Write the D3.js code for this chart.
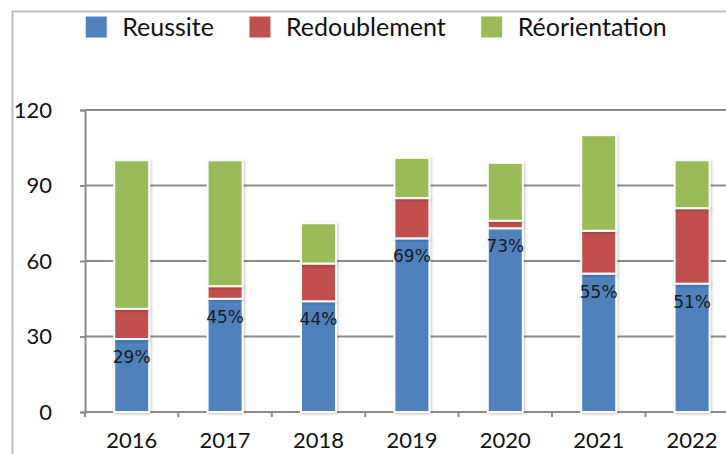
<!DOCTYPE html>
<html>
<head>
<meta charset="utf-8">
<script src="https://cdn.jsdelivr.net/npm/d3@7"></script>
<style>
  body { margin: 0; background: #fff; }
  svg { display: block; }
  .tick-label { font-family: Lato, "Open Sans", sans-serif; font-size: 22px; fill: #111; }
  .legend-text { font-family: Lato, "Open Sans", sans-serif; font-size: 25px; fill: #111; }
  .pct { font-family: "DejaVu Sans", sans-serif; font-size: 17px; fill: #1a1a1a; }
</style>
</head>
<body>
<script>
// data
var years = ["2016", "2017", "2018", "2019", "2020", "2021", "2022"];
var reussite = [29, 45, 44, 69, 73, 55, 51];
var redoublement = [12, 5, 15, 16, 3, 17, 30];
var reorientation = [59, 50, 16, 16, 23, 38, 19];
var yTicks = [0, 30, 60, 90, 120];
var seriesNames = ["Reussite", "Redoublement", "Réorientation"];
var colors = ["#4f81bd", "#c0504d", "#9bbb59"];

window.onload = function() {
  main();
};

function main() {
  var width = 726;
  var height = 454;
  var margin = {left: 85, top: 110, bottom: 412};
  var step = 93.4;

  var svg = d3.select("body")
              .append("svg")
              .attr("width", width)
              .attr("height", height);

  var defs = svg.append("defs");
  var shadow = defs.append("filter")
                   .attr("id", "shadow")
                   .attr("x", "-20%").attr("y", "-20%")
                   .attr("width", "140%").attr("height", "140%");
  shadow.append("feGaussianBlur")
        .attr("in", "SourceAlpha")
        .attr("stdDeviation", 1.5)
        .attr("result", "blur");
  shadow.append("feOffset").attr("dx", 1).attr("dy", 1).attr("result", "off");
  shadow.append("feComponentTransfer").attr("in", "off").attr("result", "soft")
        .append("feFuncA").attr("type", "linear").attr("slope", 0.25);
  var merge = shadow.append("feMerge");
  merge.append("feMergeNode").attr("in", "soft");
  merge.append("feMergeNode").attr("in", "SourceGraphic");

  // outer frame
  svg.append("path")
     .attr("d", "M12.5," + height + "V11.5H" + width)
     .attr("fill", "none")
     .attr("stroke", "#bdbdbd")
     .attr("stroke-width", 2);

  var xScale = d3.scaleBand()
                 .domain(years)
                 .range([margin.left, margin.left + step * years.length])
                 .paddingInner(0.625)
                 .paddingOuter(0.3125);
  var yScale = d3.scaleLinear()
                 .domain([0, 120])
                 .range([margin.bottom, margin.top]);

  // gridlines
  svg.selectAll(".grid")
     .data(yTicks.slice(1))
     .enter()
     .append("line")
     .attr("class", "grid")
     .attr("x1", margin.left)
     .attr("x2", width)
     .attr("y1", function(d){ return yScale(d); })
     .attr("y2", function(d){ return yScale(d); })
     .attr("stroke", "#8c8c8c")
     .attr("stroke-width", 2);

  // y axis
  var yAxis = d3.axisLeft(yScale).tickValues(yTicks).tickSize(5).tickPadding(28);
  var gy = svg.append("g")
              .attr("transform", "translate(" + margin.left + ",0)")
              .call(yAxis);
  gy.select(".domain").attr("stroke", "#8c8c8c").attr("stroke-width", 2);
  gy.selectAll(".tick line").attr("stroke", "#8c8c8c").attr("stroke-width", 2);
  gy.selectAll(".tick text")
    .attr("class", "tick-label")
    .attr("font-family", null).attr("font-size", null);
  gy.attr("font-family", null).attr("font-size", null);

  // x axis line with ticks at band boundaries
  var boundaries = years.map(function(d, i){ return margin.left + step * i; });
  svg.append("line")
     .attr("x1", margin.left).attr("x2", width)
     .attr("y1", yScale(0)).attr("y2", yScale(0))
     .attr("stroke", "#8c8c8c").attr("stroke-width", 2);
  svg.selectAll(".xtick")
     .data(boundaries)
     .enter()
     .append("line")
     .attr("x1", function(d){ return d; })
     .attr("x2", function(d){ return d; })
     .attr("y1", yScale(0))
     .attr("y2", yScale(0) + 5)
     .attr("stroke", "#8c8c8c").attr("stroke-width", 2);
  svg.selectAll(".xlabel")
     .data(years)
     .enter()
     .append("text")
     .attr("class", "tick-label")
     .attr("x", function(d){ return xScale(d) + xScale.bandwidth() / 2; })
     .attr("y", yScale(0) + 36)
     .attr("text-anchor", "middle")
     .text(function(d){ return d; });

  // stacked bars
  var rows = years.map(function(y, i){
    return {year: y, Reussite: reussite[i], Redoublement: redoublement[i], "Réorientation": reorientation[i]};
  });
  var stack = d3.stack().keys(seriesNames)(rows);

  svg.selectAll(".series")
     .data(stack)
     .enter()
     .append("g")
     .attr("fill", function(d, i){ return colors[i]; })
     .selectAll("rect")
     .data(function(d){ return d; })
     .enter()
     .append("rect")
     .attr("x", function(d){ return xScale(d.data.year); })
     .attr("width", xScale.bandwidth())
     .attr("y", function(d){ return yScale(d[1]); })
     .attr("height", function(d){ return yScale(d[0]) - yScale(d[1]); })
     .attr("stroke", "#fff")
     .attr("stroke-width", 2)
     .attr("filter", "url(#shadow)");

  // percent labels
  svg.selectAll(".pct")
     .data(rows)
     .enter()
     .append("text")
     .attr("class", "pct")
     .attr("x", function(d){ return xScale(d.year) + xScale.bandwidth() / 2; })
     .attr("y", function(d){ return yScale(d.Reussite) + 24; })
     .attr("text-anchor", "middle")
     .text(function(d){ return d.Reussite + "%"; });

  // legend
  var legend = svg.append("g");
  var cursor = 0;
  seriesNames.forEach(function(name, i){
    var item = legend.append("g").attr("transform", "translate(" + cursor + ",0)");
    item.append("rect")
        .attr("x", 0).attr("y", 16)
        .attr("width", 22).attr("height", 22)
        .attr("fill", colors[i])
        .attr("stroke", "#fff").attr("stroke-width", 1);
    var t = item.append("text")
                .attr("class", "legend-text")
                .attr("x", 37)
                .attr("y", 36)
                .text(name);
    cursor += 37 + t.node().getComputedTextLength() + 35;
  });
  var legendWidth = cursor - 35;
  legend.attr("transform", "translate(" + (376 - legendWidth / 2) + ",0)");
}
</script>
</body>
</html>
